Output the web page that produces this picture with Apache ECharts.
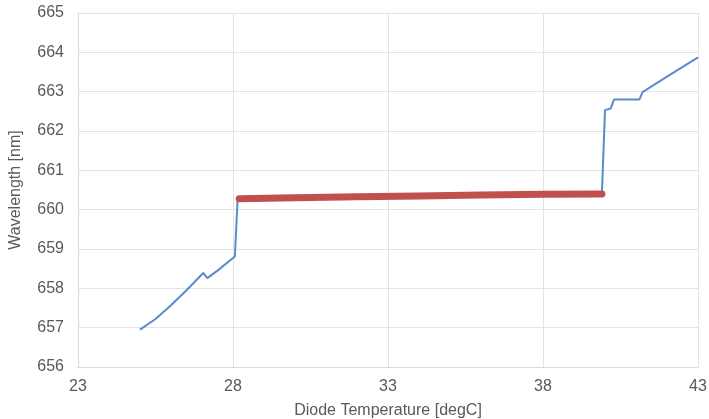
<!DOCTYPE html>
<html><head><meta charset="utf-8">
<script src="https://cdn.jsdelivr.net/npm/echarts@6/dist/echarts.min.js"></script>
<style>html,body{margin:0;padding:0;background:#fff}#c{width:709px;height:419px}</style>
</head><body><div id="c"></div>
<script>
const blueX = [25.0, 25.5, 26.0, 26.5, 27.04, 27.17, 27.5, 28.06, 28.15, 30, 32, 34, 36, 38, 39.9, 40.0, 40.18, 40.29, 41.11, 41.21, 42.0, 43.0];
const blueY = [656.95, 657.22, 657.57, 657.95, 658.39, 658.26, 658.45, 658.81, 660.28, 660.30, 660.33, 660.35, 660.37, 660.39, 660.40, 662.53, 662.57, 662.80, 662.80, 662.99, 663.38, 663.87];
const redX = [28.2, 30, 32, 34, 36, 38, 39.9];
const redY = [660.28, 660.30, 660.33, 660.35, 660.37, 660.39, 660.40];
const xTicks = [23, 28, 33, 38, 43];
const yTicks = [656, 657, 658, 659, 660, 661, 662, 663, 664, 665];

const pair = (xs, ys) => xs.map((x, i) => [x, ys[i]]);
const font = '"Liberation Sans", Arial, sans-serif';
const chart = echarts.init(document.getElementById('c'), null, {renderer: 'canvas'});
chart.setOption({
  animation: false,
  grid: {left: 78, right: 11, top: 13, bottom: 52, containLabel: false, outerBoundsMode: 'none'},
  xAxis: {
    type: 'value', min: xTicks[0], max: xTicks[xTicks.length - 1], interval: 5,
    name: 'Diode Temperature [degC]', nameLocation: 'middle', nameGap: 36,
    nameTextStyle: {color: '#595959', fontSize: 16, fontFamily: font},
    axisLine: {show: true, lineStyle: {color: '#d9d9d9'}},
    axisTick: {show: false},
    axisLabel: {color: '#595959', fontSize: 16, fontFamily: font, margin: 12},
    splitLine: {show: true, lineStyle: {color: '#e3e3e3', width: 1}}
  },
  yAxis: {
    type: 'value', min: yTicks[0], max: yTicks[yTicks.length - 1], interval: 1,
    name: 'Wavelength [nm]', nameLocation: 'middle', nameGap: 54, nameRotate: 90,
    nameTextStyle: {color: '#595959', fontSize: 16, fontFamily: font},
    axisLine: {show: true, lineStyle: {color: '#d9d9d9'}},
    axisTick: {show: false},
    axisLabel: {color: '#595959', fontSize: 16, fontFamily: font, margin: 14},
    splitLine: {show: true, lineStyle: {color: '#e3e3e3', width: 1}}
  },
  series: [
    {type: 'line', data: pair(blueX, blueY), showSymbol: false, symbol: 'none',
     lineStyle: {color: '#5a8bcf', width: 2}, z: 2},
    {type: 'line', data: pair(redX, redY), showSymbol: false, symbol: 'none',
     lineStyle: {color: '#c0504d', width: 7, cap: 'round', join: 'round'}, z: 3}
  ]
});
</script></body></html>
